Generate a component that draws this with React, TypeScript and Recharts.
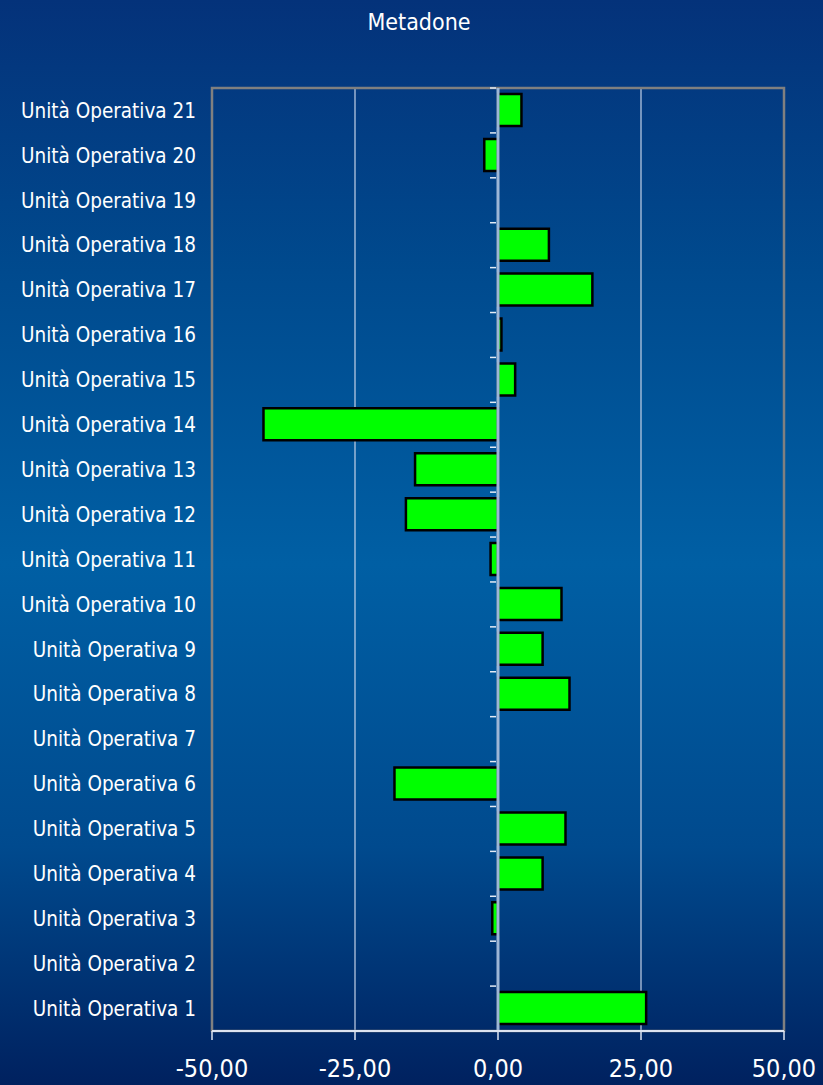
import React from 'react';
import { BarChart, Bar, XAxis, YAxis, CartesianGrid, ReferenceLine, ReferenceArea } from 'recharts';

const categorie = [
  'Unità Operativa 1', 'Unità Operativa 2', 'Unità Operativa 3', 'Unità Operativa 4',
  'Unità Operativa 5', 'Unità Operativa 6', 'Unità Operativa 7', 'Unità Operativa 8',
  'Unità Operativa 9', 'Unità Operativa 10', 'Unità Operativa 11', 'Unità Operativa 12',
  'Unità Operativa 13', 'Unità Operativa 14', 'Unità Operativa 15', 'Unità Operativa 16',
  'Unità Operativa 17', 'Unità Operativa 18', 'Unità Operativa 19', 'Unità Operativa 20',
  'Unità Operativa 21',
];

const valori = [
  25.9, null, -1.0, 7.8, 11.8, -18.1, null, 12.5, 7.8, 11.1, -1.3,
  -16.1, -14.5, -41.0, 3.0, 0.6, 16.5, 8.9, null, -2.4, 4.1,
];

const tickX = [-50, -25, 0, 25, 50];

const dati = categorie.map((nome, i) => ({ nome, valore: valori[i] }));

const FONT = "'DejaVu Sans Condensed', 'DejaVu Sans', sans-serif";

const formatta = (v: number) => v.toFixed(2).replace('.', ',');

// linea dello zero con le tacche tra le categorie
const LineaZero = (props: any) => {
  const { x1, y1, y2 } = props;
  const n = categorie.length;
  const passo = (y2 - y1) / n;
  return (
    <g>
      <line x1={x1} y1={y1} x2={x1} y2={y2} stroke="#9db6d6" strokeWidth={3} />
      {Array.from({ length: n + 1 }, (_, i) => (
        <line
          key={i}
          x1={x1 - 8}
          x2={x1 - 2}
          y1={y1 + i * passo}
          y2={y1 + i * passo}
          stroke="#e4ecf6"
          strokeWidth={1.5}
        />
      ))}
    </g>
  );
};

const App = () => {
  return (
    <div
      style={{
        position: 'absolute',
        top: 0,
        left: 0,
        width: 823,
        height: 1085,
        background: 'linear-gradient(to bottom, #04327a 0%, #004a8e 25%, #005fa4 52%, #004a8e 78%, #00215f 100%)',
        fontFamily: FONT,
      }}
    >
      <BarChart
        width={823}
        height={1085}
        data={dati}
        layout="vertical"
        margin={{ top: 88, right: 39, bottom: 0, left: 0 }}
        barSize={32}
      >
        <CartesianGrid horizontal={false} stroke="#c4d2e8" strokeWidth={1.2} />
        <ReferenceArea x1={-50} x2={50} fill="none" stroke="#808080" strokeWidth={2.5} />
        <XAxis
          type="number"
          domain={[-50, 50]}
          ticks={tickX}
          interval={0}
          tickFormatter={formatta}
          height={54}
          axisLine={{ stroke: '#dde4f0', strokeWidth: 2 }}
          tickLine={{ stroke: '#dde4f0', strokeWidth: 1.5 }}
          tickSize={9}
          tickMargin={19}
          tick={{ fill: '#ffffff', fontSize: 25, fontFamily: FONT }}
        />
        <YAxis
          type="category"
          dataKey="nome"
          reversed
          width={212}
          interval={0}
          axisLine={false}
          tickLine={false}
          tickSize={0}
          tickMargin={16}
          tick={{ fill: '#ffffff', fontSize: 20.5, fontFamily: FONT }}
        />
        <Bar
          dataKey="valore"
          fill="#00ff00"
          stroke="#000000"
          strokeWidth={2.5}
          isAnimationActive={false}
        />
        <ReferenceLine x={0} shape={LineaZero} />
      </BarChart>
      <div
        style={{
          position: 'absolute',
          top: 8,
          left: 0,
          width: 823,
          paddingLeft: 15,
          boxSizing: 'border-box',
          textAlign: 'center',
          color: '#ffffff',
          fontSize: 23,
          lineHeight: '28px',
        }}
      >
        Metadone
      </div>
    </div>
  );
};

export default App;
